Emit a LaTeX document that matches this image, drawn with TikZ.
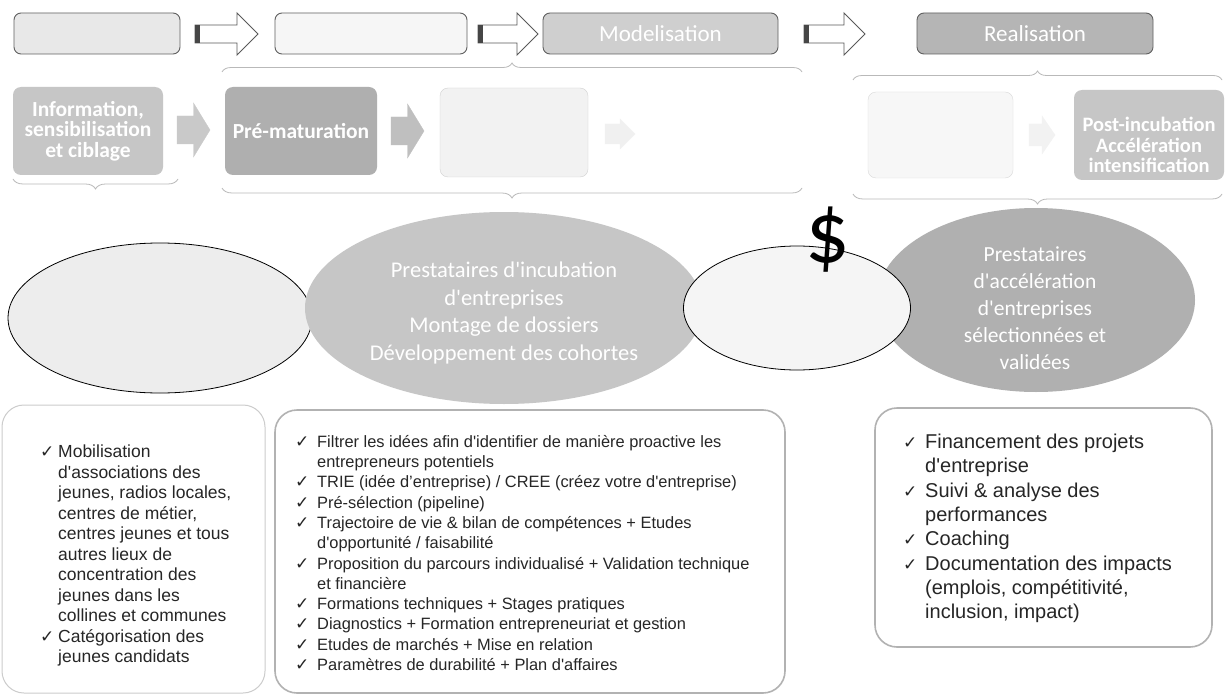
\documentclass[tikz,border=0pt]{standalone}
\usepackage{fontspec}
\setmainfont{Liberation Sans}[Ligatures=TeXOff]
\newfontfamily\carl{Carlito}
\newfontfamily\dvs{DejaVu Sans}
\usetikzlibrary{shapes.geometric,decorations.pathreplacing}
\newcommand\ckA{\makebox[18pt][l]{\dvs\fontsize{17}{17}\selectfont ✓}}
\newcommand\ckB{\makebox[22pt][l]{\dvs\fontsize{17}{17}\selectfont ✓}}
\newcommand\inA{\hspace*{18pt}}
\newcommand\inB{\hspace*{22pt}}
\newcommand\toparrow[2]{%
  \draw[blockarrow] (#1,25) -- ({#2-21},25) -- ({#2-21},13) -- (#2,34) -- ({#2-21},55) -- ({#2-21},43) -- (#1,43) -- cycle;
  \fill[gray!55!black] (#1,25) rectangle ({#1+5},43);}
\newcommand\smallarrow[6]{%
  \path[fill=#6,draw=#6,line width=0.3pt] (#1,{#3-#4}) -- ({(#1+#2)/2},{#3-#4}) -- ({(#1+#2)/2},{#3-#5}) -- (#2,#3) -- ({(#1+#2)/2},{#3+#5}) -- ({(#1+#2)/2},{#3+#4}) -- (#1,{#3+#4}) -- cycle;}
\tikzset{
  topbox/.style={draw=gray!75!black, line width=0.9pt, rounded corners=7pt, inner sep=0pt,
    minimum height=41pt, font=\carl\fontsize{23}{24}\selectfont, text=white},
  midbox/.style={rounded corners=8pt, inner sep=0pt, minimum height=88pt, minimum width=150pt,
    align=center, font=\carl\bfseries\fontsize{21.5}{20.5}\selectfont, text=white},
  blockarrow/.style={fill=white, draw=gray!70!black, line width=0.9pt, line join=miter},
  brk/.style={draw=gray!55, line width=0.8pt, decorate, decoration={brace, amplitude=#1}},
  ell/.style={ellipse, inner sep=0pt},
  ellt/.style={font=\carl\fontsize{22.5}{27.5}\selectfont, text=white, align=center, inner sep=0pt},
  listbox/.style={rounded corners=22pt, inner sep=0pt},
  listtxt/.style={anchor=north west, align=left, inner sep=0pt, text=black!85},
}
\begin{document}
\begin{tikzpicture}[x=1pt,y=-1pt]
\useasboundingbox (0,0) rectangle (1225,695);
\fill[white] (0,0) rectangle (1225,695);

% top row
\node[topbox, fill=gray!18, minimum width=166pt] (t1) at (97,33.5) {};
\node[topbox, fill=gray!7, minimum width=192pt] (t2) at (371,33.5) {};
\node[topbox, fill=gray!38, minimum width=235pt] (t3) at (660.5,33.5) {Modelisation};
\node[topbox, fill=gray!58, minimum width=236pt] (t4) at (1035,33.5) {Realisation};
\toparrow{195}{258}
\toparrow{478}{538}
\toparrow{804}{865}

% top brackets
\draw[brk=9] (222,72) -- (802,72);
\draw[brk=9] (853,80) -- (1222,80);

% second row
\node[midbox, fill=gray!45] (r1) at (88,131) {Information,\\sensibilisation\\et ciblage};
\node[midbox, fill=gray!63, minimum width=152pt] (r2) at (301,131) {Pré-maturation};
\node[midbox, fill=gray!10, draw=gray!35, minimum width=148pt, minimum height=89pt] (r3) at (514,132.5) {};
\node[midbox, fill=gray!6, draw=gray!30, minimum width=145pt, minimum height=86pt] (r4) at (940.5,135) {};
\node[midbox, fill=gray!45, minimum width=150pt, minimum height=90pt] (r5) at (1149,135) {};
\node[midbox, minimum height=0pt, minimum width=0pt, font=\carl\bfseries\fontsize{20.5}{20.5}\selectfont] (r5t) at (1149,145) {Post-incubation\\Accélération\\intensification};
\smallarrow{177}{210}{130}{14}{27}{gray!42}
\smallarrow{391}{424}{131}{14}{27}{gray!50}
\smallarrow{605}{635}{134}{10}{15}{gray!12}
\smallarrow{1029}{1055}{135}{11}{19}{gray!10}

% bottom brackets
\draw[brk=10] (178,179) -- (13,179);
\draw[brk=10] (802,188) -- (222,188);
\draw[brk=10] (1222,194) -- (853,194);

% ellipses
\node[ell, fill=gray!14, draw=black, line width=0.8pt, minimum width=304pt, minimum height=150pt] (eL) at (160,318) {};
\node[ell, fill=gray!45, minimum width=398pt, minimum height=192pt] (eM) at (504,308) {};
\node[ellt] (eMt) at (504,313) {Prestataires d'incubation\\d'entreprises\\Montage de dossiers\\Développement des cohortes};
\node[ell, fill=gray!62, minimum width=318pt, minimum height=184pt] (eR) at (1036,300) {};
\node[ellt, font=\carl\fontsize{21.5}{27}\selectfont] (eRt) at (1035,308) {Prestataires\\d'accélération\\d'entreprises\\sélectionnées et\\validées};
\node[ell, fill=gray!8, draw=black, line width=0.8pt, minimum width=227pt, minimum height=124pt] (eS) at (797,308) {};
\node[inner sep=0pt, font=\carl\fontsize{88}{88}\selectfont] (dollar) at (828,240) {\$};

% bottom boxes
\node[listbox, draw=gray!40, line width=1pt, minimum width=263pt, minimum height=288pt] (bL) at (133.5,549) {};
\node[listbox, draw=gray!60, line width=1.6pt, minimum width=510pt, minimum height=283pt] (bM) at (530,551.5) {};
\node[listbox, draw=gray!60, line width=1.6pt, minimum width=337pt, minimum height=239pt] (bR) at (1043.5,527.5) {};

\node[listtxt, font=\fontsize{17.5}{20.5}\selectfont] (tL) at (40,445) {%
\ckA Mobilisation\\
\inA d'associations des\\
\inA jeunes, radios locales,\\
\inA centres de métier,\\
\inA centres jeunes et tous\\
\inA autres lieux de\\
\inA concentration des\\
\inA jeunes dans les\\
\inA collines et communes\\
\ckA Catégorisation des\\
\inA jeunes candidats};

\node[listtxt, font=\fontsize{16.4}{20.3}\selectfont] (tM) at (295,435) {%
\ckB Filtrer les idées afin d'identifier de manière proactive les\\
\inB entrepreneurs potentiels\\
\ckB TRIE (idée d’entreprise) / CREE (créez votre d'entreprise)\\
\ckB Pré-sélection (pipeline)\\
\ckB Trajectoire de vie \& bilan de compétences + Etudes\\
\inB d'opportunité / faisabilité\\
\ckB Proposition du parcours individualisé + Validation technique\\
\inB et financière\\
\ckB Formations techniques + Stages pratiques\\
\ckB Diagnostics + Formation entrepreneuriat et gestion\\
\ckB Etudes de marchés + Mise en relation\\
\ckB Paramètres de durabilité + Plan d'affaires};

\node[listtxt, font=\fontsize{20}{24.3}\selectfont] (tR) at (903,434) {%
\ckB Financement des projets\\
\inB d'entreprise\\
\ckB Suivi \& analyse des\\
\inB performances\\
\ckB Coaching\\
\ckB Documentation des impacts\\
\inB (emplois, compétitivité,\\
\inB inclusion, impact)};
\end{tikzpicture}
\end{document}
